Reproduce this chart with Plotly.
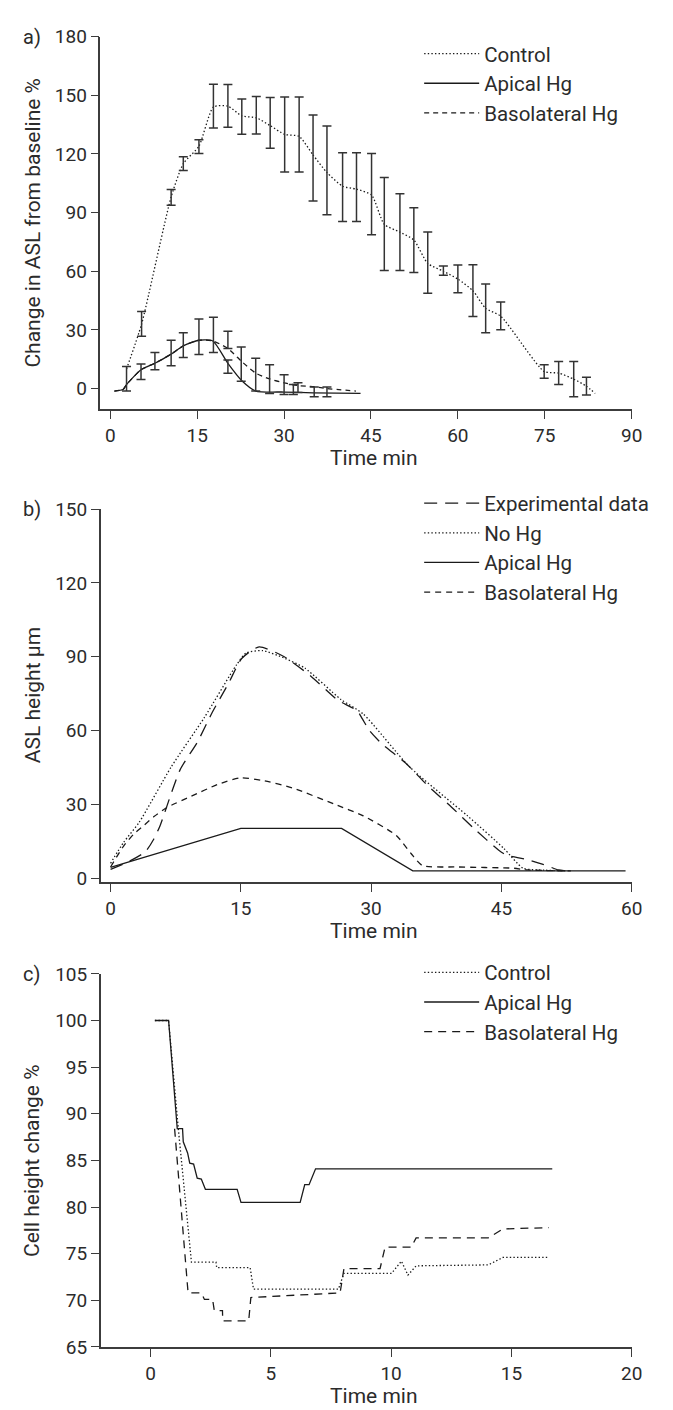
import plotly.graph_objects as go

# ---------------- Panel a data ----------------
a_ctrl_t = [2.8, 5.4, 10.5, 12.6, 15.3, 17.8, 20.3, 22.7, 25.2, 27.6, 30.1, 32.6, 35.0, 37.4, 40.1,
            42.5, 45.1, 47.3, 50.0, 52.4, 54.8, 57.5, 60.0, 62.6, 64.8, 67.4, 74.9, 77.4, 80.0, 82.2, 83.7]
a_ctrl_y = [10, 33, 98, 115, 124, 144, 144.5, 139.5, 138.5, 134.5, 130, 129, 119.5, 110.5, 103.5,
            102, 99, 84, 80, 76, 64, 60, 56, 50, 41, 37, 8.7, 7.9, 4.8, 1.2, -2.5]
a_ctrl_err = [None, 6.3, 4.0, 3.5, 3.5, 11.2, 10.9, 9.0, 9.6, 13.0, 19.2, 19.2, 22.0, 22.7, 17.6,
              17.6, 20.8, 23.8, 19.6, 16.6, 15.7, 2.4, 7.1, 13.2, 12.5, 7.1, 3.4, 5.9, 9.0, 4.5, None]
a_ctrl_bar_y = [None, 33.1, 97.8, 115.1, 123.8, 144.5, 144.6, 139.1, 139.8, 135.9, 130.0, 130.0, 118.0,
                111.6, 103.0, 103.0, 99.5, 84.2, 80.0, 75.9, 64.4, 60.3, 56.1, 50.1, 41.0, 37.2, 8.7,
                7.9, 4.8, 1.2, None]

a_api_t = [0.7, 2.2, 2.8, 5.3, 7.7, 10.5, 12.6, 15.3, 17.7, 20.3, 22.8, 25.1, 30.0, 35.0, 43.2]
a_api_y = [-1.3, -0.5, 2.0, 9.6, 12.9, 17.6, 21.8, 24.7, 24.3, 12.9, 3.7, -1.3, -1.8, -2.2, -2.5]
a_api_bar_t = [2.8, 5.3, 7.7, 10.5, 12.6, 15.3, 17.8, 20.3, 31.6, 35.2, 37.4]
a_api_bar_y = [5.0, 8.6, 14.0, 18.2, 22.2, 26.5, 27.4, 11.2, -0.5, -1.7, -1.7]
a_api_bar_e = [6.3, 4.0, 4.4, 6.5, 6.3, 9.1, 9.0, 3.4, 2.5, 2.5, 2.5]

a_bas_t = [0.7, 2.2, 2.8, 5.3, 7.7, 10.5, 12.6, 15.3, 17.7, 20.3, 22.8, 25.1, 27.5, 30.0, 32.4,
           35.2, 37.4, 42.4]
a_bas_y = [-1.3, -0.5, 2.0, 9.6, 12.9, 17.6, 21.8, 24.7, 24.3, 20.5, 13.5, 7.9, 4.9, 2.9, 1.5,
           0.9, 0.0, -1.3]
a_bas_bar_t = [20.3, 22.6, 25.1, 27.5, 30.0, 32.4]
a_bas_bar_y = [24.9, 12.5, 7.1, 4.8, 2.0, 0.5]
a_bas_bar_e = [4.4, 8.8, 8.4, 7.3, 5.0, 2.5]

# ---------------- Panel b data ----------------
b_exp_t = [0, 2.1, 4.0, 5.0, 5.7, 8.0, 10.0, 11.7, 13.6, 15.1, 17.1, 20.0, 23.1, 26.1, 28.4, 29.0,
           29.8, 31.2, 34.0, 36.6, 39.3, 41.9, 44.7, 45.6, 46.3, 47.9, 49.8, 51.6, 53.0]
b_exp_y = [3.5, 6.7, 10.7, 16, 21.3, 44, 55.3, 67.3, 79.3, 89.3, 94, 90, 82, 72.5, 68, 64.7,
           60, 54.7, 46.7, 37.3, 28.7, 20, 11.3, 9.3, 8.7, 7.6, 5.6, 3.3, 2.9]

b_nohg_t = [0, 1.5, 3.3, 7.0, 10.8, 14.5, 15.6, 17.5, 20.1, 22.4, 26.5, 29.1, 34.4, 41.1, 45.3,
            47.5, 50.0, 53.0]
b_nohg_y = [6, 14.5, 22.7, 45.3, 65.3, 86.7, 91.5, 92.5, 89.3, 85.3, 72.7, 66.7, 45.3, 25.3, 12,
            4, 3.2, 2.9]

b_api_t = [0, 15, 26.6, 34.8, 59.3]
b_api_y = [4.3, 20.2, 20.2, 2.9, 2.9]

b_bas_t = [0, 1.5, 2.7, 3.8, 5.0, 6.5, 9.3, 12.3, 14.9, 17.5, 20.9, 25.8, 29.1, 32.9, 34.6, 35.9,
           40.0, 46.4, 48.0, 53.0]
b_bas_y = [4.5, 13, 18, 21.3, 25, 28.7, 33.3, 38, 40.7, 39.7, 36.7, 30, 25.3, 17.3, 10, 5.1,
           4.5, 4.0, 3.3, 2.9]

# ---------------- Panel c data ----------------
c_ctrl_t = [0.18, 0.75, 1.15, 1.70, 2.72, 2.75, 4.14, 4.28, 7.81, 8.04, 10.02, 10.43, 10.7, 11.04,
            14.04, 14.65, 16.56]
c_ctrl_y = [100, 100, 88.5, 74.1, 74.1, 73.5, 73.5, 71.2, 71.2, 72.9, 72.9, 74.2, 72.7, 73.7,
            73.8, 74.6, 74.6]

c_api_t = [0.18, 0.75, 1.11, 1.33, 1.36, 1.54, 1.63, 1.79, 1.94, 2.11, 2.28, 3.60, 3.76, 6.22,
           6.41, 6.59, 6.86, 16.7]
c_api_y = [100, 100, 88.4, 88.4, 87.0, 85.8, 84.7, 84.6, 83.1, 83.0, 81.9, 81.9, 80.5, 80.5,
           82.4, 82.4, 84.1, 84.1]

c_bas_t = [1.0, 1.5, 1.56, 2.11, 2.24, 2.58, 2.65, 2.99, 3.0, 4.08, 4.17, 7.88, 8.04, 9.54, 9.75,
           10.84, 11.04, 14.04, 14.65, 16.56]
c_bas_y = [88.4, 72.0, 70.8, 70.8, 70.1, 70.1, 68.9, 68.9, 67.8, 67.8, 70.3, 70.8, 73.4, 73.4,
           75.7, 75.7, 76.7, 76.7, 77.65, 77.8]

# tick labels
a_xticks = [0, 15, 30, 45, 60, 75, 90]
a_yticks = [0, 30, 60, 90, 120, 150, 180]
b_xticks = [0, 15, 30, 45, 60]
b_yticks = [0, 30, 60, 90, 120, 150]
c_xticks = [0, 5, 10, 15, 20]
c_yticks = [65, 70, 75, 80, 85, 90, 95, 100, 105]

# ---------------- layout helpers ----------------
W, H = 673, 1410
FONT = "Roboto"
TXT = "#2b2b2b"
AX = "#3c3c3c"
LINE = "#1a1a1a"
DOT = "1.4px,2.2px"


def xdom(left, right):
    return [left / W, right / W]


def ydom(top, bottom):
    return [1 - bottom / H, 1 - top / H]


fig = go.Figure()


def line(x, y, dash, name, xa, ya, legend, show=True, shape="linear", width=1.3):
    fig.add_trace(go.Scatter(x=x, y=y, mode="lines", name=name, xaxis=xa, yaxis=ya,
                             line=dict(color=LINE, width=width, dash=dash, shape=shape,
                                       smoothing=0.6 if shape == "spline" else None),
                             legend=legend, showlegend=show))


def bars(x, y, e, xa, ya):
    xs = [a for a, b in zip(x, e) if b is not None]
    ys = [a for a, b in zip(y, e) if b is not None]
    es = [b for b in e if b is not None]
    fig.add_trace(go.Scatter(x=xs, y=ys, mode="markers", xaxis=xa, yaxis=ya, showlegend=False,
                             marker=dict(size=2, opacity=0),
                             error_y=dict(type="data", array=es, visible=True, color="#333333",
                                          thickness=1.5, width=4.5)))


# Panel a
line(a_ctrl_t, a_ctrl_y, DOT, "Control", "x", "y", "legend", shape="spline")
line(a_api_t, a_api_y, "solid", "Apical Hg", "x", "y", "legend", shape="spline")
line(a_bas_t, a_bas_y, "5px,4px", "Basolateral Hg", "x", "y", "legend", shape="spline")
bars(a_ctrl_t, a_ctrl_bar_y, a_ctrl_err, "x", "y")
bars(a_api_bar_t, a_api_bar_y, a_api_bar_e, "x", "y")
bars(a_bas_bar_t, a_bas_bar_y, a_bas_bar_e, "x", "y")

# Panel b
line(b_exp_t, b_exp_y, "13px,8px", "Experimental data", "x2", "y2", "legend2", shape="spline")
line(b_nohg_t, b_nohg_y, DOT, "No Hg", "x2", "y2", "legend2", shape="spline")
line(b_api_t, b_api_y, "solid", "Apical Hg", "x2", "y2", "legend2")
line(b_bas_t, b_bas_y, "6px,5px", "Basolateral Hg", "x2", "y2", "legend2", shape="spline")

# Panel c
line(c_ctrl_t, c_ctrl_y, DOT, "Control", "x3", "y3", "legend3")
line(c_api_t, c_api_y, "solid", "Apical Hg", "x3", "y3", "legend3")
line(c_bas_t, c_bas_y, "8px,6px", "Basolateral Hg", "x3", "y3", "legend3")


def axis(dom, rng, ticks, anchor):
    return dict(domain=dom, range=rng, tickvals=ticks, ticktext=[str(t) for t in ticks],
                anchor=anchor, showline=True, linecolor=AX, linewidth=1.5, ticks="outside",
                ticklen=8, tickwidth=1.4, tickcolor=AX, showgrid=False, zeroline=False,
                tickfont=dict(family=FONT, size=19, color=TXT), fixedrange=True)


PA = (18, 396.7)
PB = (498.3, 877.3)
PC = (970.7, 1350)

fig.update_layout(
    width=W, height=H, margin=dict(l=0, r=0, t=0, b=0),
    paper_bgcolor="white", plot_bgcolor="white",
    font=dict(family=FONT, size=20, color=TXT),
    xaxis=axis(xdom(94, 634), [-1.7, 90], a_xticks, "y"),
    yaxis=axis(ydom(*PA), [-10.6, 180], a_yticks, "x"),
    xaxis2=axis(xdom(94.3, 634), [-1.13, 60], b_xticks, "y2"),
    yaxis2=axis(ydom(*PB), [-1.6, 150], b_yticks, "x2"),
    xaxis3=axis(xdom(94.3, 634), [-2.07, 20], c_xticks, "y3"),
    yaxis3=axis(ydom(*PC), [65, 105], c_yticks, "x3"),
)

LFS = 20.5
leg = dict(xanchor="left", yanchor="top", bgcolor="rgba(0,0,0,0)", itemwidth=55,
           font=dict(family=FONT, size=LFS, color=TXT), tracegroupgap=0)
fig.update_layout(
    legend=dict(leg, x=418 / W, y=1 - 15 / H),
    legend2=dict(leg, x=418 / W, y=1 - 472 / H),
    legend3=dict(leg, x=418 / W, y=1 - 949 / H),
)

TFS = 21
ann = []
for lab, top in [("a)", PA[0]), ("b)", PB[0]), ("c)", PC[0])]:
    ann.append(dict(text=lab, x=24 / W, y=1 - top / H, xref="paper", yref="paper",
                    showarrow=False, xanchor="center", yanchor="middle",
                    font=dict(family=FONT, size=20, color=TXT)))
for lab, (top, bot) in [("Change in ASL from baseline %", PA), ("ASL height µm", PB),
                        ("Cell height change %", PC)]:
    ann.append(dict(text=lab, x=25 / W, y=1 - (top + bot) / 2 / H, xref="paper", yref="paper",
                    showarrow=False, textangle=-90, xanchor="center", yanchor="middle",
                    font=dict(family=FONT, size=TFS, color=TXT)))
for bot in [PA[1], PB[1], PC[1]]:
    ann.append(dict(text="Time min", x=372 / W, y=1 - (bot + 50) / H, xref="paper", yref="paper",
                    showarrow=False, xanchor="center", yanchor="middle",
                    font=dict(family=FONT, size=TFS, color=TXT)))
fig.update_layout(annotations=ann)

fig.write_html("out.html")
